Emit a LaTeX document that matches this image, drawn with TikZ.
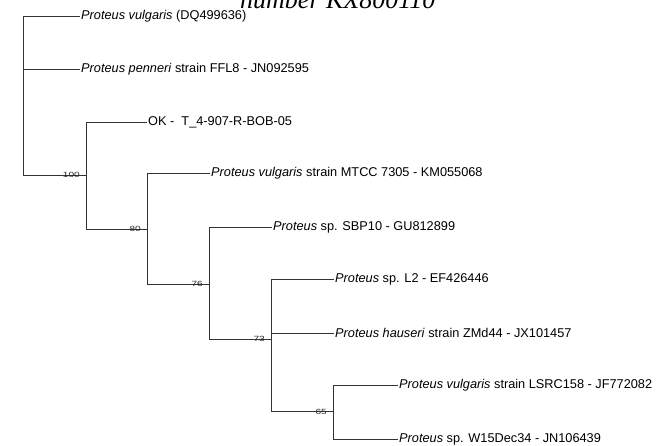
\documentclass[tikz,border=0pt]{standalone}
\usepackage{fontspec}
\setmainfont{Liberation Sans}
\newfontfamily\capfont{Liberation Serif}
\newcommand\blbl[1]{\scalebox{1.35}[1]{#1}}
\begin{document}
\begin{tikzpicture}[x=1pt,y=-1pt,
  br/.style={draw=black!80, line width=0.9pt},
  leaf/.style={anchor=west, inner sep=1pt, font=\fontsize{12.75}{14}\selectfont},
  boot/.style={anchor=base east, inner sep=0pt, text=black!85, font=\fontsize{7.5}{8}\selectfont}]
\useasboundingbox (0,0) rectangle (667,446);
\clip (0,0) rectangle (667,446);
\node[font=\capfont\itshape\fontsize{26}{28}\selectfont, anchor=base west, inner sep=0pt] (cap) at (240,9) {number KX800110};
% leaves
\node[leaf] (dq) at (80,16) {\textit{Proteus vulgaris} (DQ499636)};
\node[leaf] (pen) at (80,69) {\textit{Proteus penneri} strain FFL8 - JN092595};
\node[leaf] (ok) at (147,122) {OK - \ T\_4-907-R-BOB-05};
\node[leaf] (mtcc) at (210,173) {\textit{Proteus vulgaris} strain MTCC 7305 - KM055068};
\node[leaf] (sbp) at (272,227) {\textit{Proteus} sp. SBP10 - GU812899};
\node[leaf] (l2) at (334,279) {\textit{Proteus} sp. L2 - EF426446};
\node[leaf] (hau) at (334,333) {\textit{Proteus hauseri} strain ZMd44 - JX101457};
\node[leaf] (lsrc) at (398,385) {\textit{Proteus vulgaris} strain LSRC158 - JF772082};
\node[leaf] (w15) at (398,439) {\textit{Proteus} sp. W15Dec34 - JN106439};
% internal nodes
\coordinate (r) at (23,100);
\coordinate (n100) at (86,175);
\coordinate (n80) at (147,229);
\coordinate (n76) at (209,284);
\coordinate (n73) at (271,339);
\coordinate (n65) at (333,411);
% root
\draw[br] (r |- dq.west) -- (r |- n100);
\draw[br] (r |- dq.west) -- (dq.west);
\draw[br] (r |- pen.west) -- (pen.west);
\draw[br] (r |- n100) -- (n100);
% 100
\draw[br] (n100 |- ok.west) -- (n100 |- n80);
\draw[br] (n100 |- ok.west) -- (ok.west);
\draw[br] (n100 |- n80) -- (n80);
% 80
\draw[br] (n80 |- mtcc.west) -- (n80 |- n76);
\draw[br] (n80 |- mtcc.west) -- (mtcc.west);
\draw[br] (n80 |- n76) -- (n76);
% 76
\draw[br] (n76 |- sbp.west) -- (n76 |- n73);
\draw[br] (n76 |- sbp.west) -- (sbp.west);
\draw[br] (n76 |- n73) -- (n73);
% 73
\draw[br] (n73 |- l2.west) -- (n73 |- n65);
\draw[br] (n73 |- l2.west) -- (l2.west);
\draw[br] (n73 |- hau.west) -- (hau.west);
\draw[br] (n73 |- n65) -- (n65);
% 65
\draw[br] (n65 |- lsrc.west) -- (n65 |- w15.west);
\draw[br] (n65 |- lsrc.west) -- (lsrc.west);
\draw[br] (n65 |- w15.west) -- (w15.west);
% bootstrap
\node[boot] (b100) at ([xshift=-6pt,yshift=-3pt]n100) {\blbl{100}};
\node[boot] (b80) at ([xshift=-6pt,yshift=-3pt]n80) {\blbl{80}};
\node[boot] (b76) at ([xshift=-6pt,yshift=-3pt]n76) {\blbl{76}};
\node[boot] (b73) at ([xshift=-6pt,yshift=-3pt]n73) {\blbl{73}};
\node[boot] (b65) at ([xshift=-6pt,yshift=-3pt]n65) {\blbl{65}};
\end{tikzpicture}
\end{document}
